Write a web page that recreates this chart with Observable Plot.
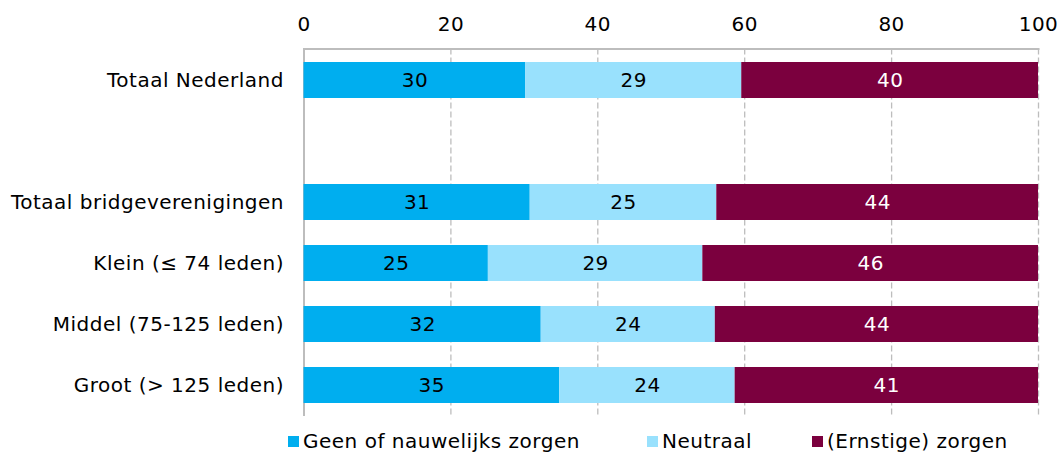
<!DOCTYPE html>
<html>
<head>
<meta charset="utf-8">
<script src="https://cdn.jsdelivr.net/npm/d3@7"></script>
<script src="https://cdn.jsdelivr.net/npm/@observablehq/plot@0.6"></script>
<style>
  html, body { margin: 0; padding: 0; background: #fff; }
  body { width: 1058px; height: 455px; overflow: hidden; font-family: "DejaVu Sans", sans-serif; color: #000; }
  #legend { position: relative; height: 37px; font-size: 20px; letter-spacing: 0.5px; }
  #legend .item { position: absolute; top: 11px; display: flex; align-items: center; white-space: nowrap; }
  #legend .sw { width: 11px; height: 11px; margin-right: 4px; }
  svg text { letter-spacing: 0.5px; }
</style>
</head>
<body>
<div id="chart"></div>
<div id="legend"></div>
<script>
const categories = ["Totaal Nederland", "", "Totaal bridgeverenigingen", "Klein (≤ 74 leden)", "Middel (75-125 leden)", "Groot (> 125 leden)"];
const barCategories = ["Totaal Nederland", "Totaal bridgeverenigingen", "Klein (≤ 74 leden)", "Middel (75-125 leden)", "Groot (> 125 leden)"];
const series = ["Geen of nauwelijks zorgen", "Neutraal", "(Ernstige) zorgen"];
const geen = [30.2, 30.8, 25.1, 32.3, 34.8];
const neutraal = [29.4, 25.4, 29.2, 23.7, 23.9];
const ernstig = [40.4, 43.8, 45.7, 44.0, 41.3];
const colors = ["#00aeef", "#99e1fd", "#7b003e"];
const textColors = ["#000", "#000", "#fff"];
const xTicks = [0, 20, 40, 60, 80, 100];

const valuesBySeries = [geen, neutraal, ernstig];
const data = [];
barCategories.forEach((c, i) => {
  series.forEach((s, j) => {
    data.push({cat: c, series: s, value: valuesBySeries[j][i], tc: textColors[j]});
  });
});

const chart = Plot.plot({
  width: 1058,
  height: 418,
  marginTop: 48.5,
  marginBottom: 2,
  marginLeft: 303.5,
  marginRight: 20,
  style: {fontFamily: "DejaVu Sans, sans-serif", fontSize: "20px", color: "#000", background: "#fff"},
  x: {domain: [0, 100]},
  y: {domain: categories, padding: 0.41, paddingOuter: 0.205, align: 0.5},
  color: {domain: series, range: colors},
  marks: [
    Plot.gridX(xTicks.slice(1), {stroke: "#bdbdbd", strokeOpacity: 1, strokeDasharray: "6,3", strokeWidth: 1.3}),
    Plot.ruleX([0], {stroke: "#bdbdbd", strokeWidth: 2}),
    Plot.frame({anchor: "top", stroke: "#bdbdbd", strokeWidth: 2}),
    Plot.barX(data, Plot.stackX({x: "value", y: "cat", fill: "series", order: series})),
    Plot.text(data, Plot.stackX({x: "value", y: "cat", order: series, text: d => d3.format(".0f")(d.value), fill: "tc", fontSize: 20})),
    Plot.axisX({anchor: "top", ticks: xTicks, tickSize: 0, tickPadding: 18, fontSize: 20, label: null}),
    Plot.axisY({tickSize: 0, tickPadding: 20, fontSize: 20, label: null})
  ]
});
document.getElementById("chart").appendChild(chart);

const legend = document.getElementById("legend");
const lefts = [288, 647, 812];
series.forEach((s, j) => {
  const item = document.createElement("div");
  item.className = "item";
  item.style.left = lefts[j] + "px";
  const sw = document.createElement("span");
  sw.className = "sw";
  sw.style.background = colors[j];
  const t = document.createElement("span");
  t.textContent = s;
  item.appendChild(sw);
  item.appendChild(t);
  legend.appendChild(item);
});
</script>
</body>
</html>
